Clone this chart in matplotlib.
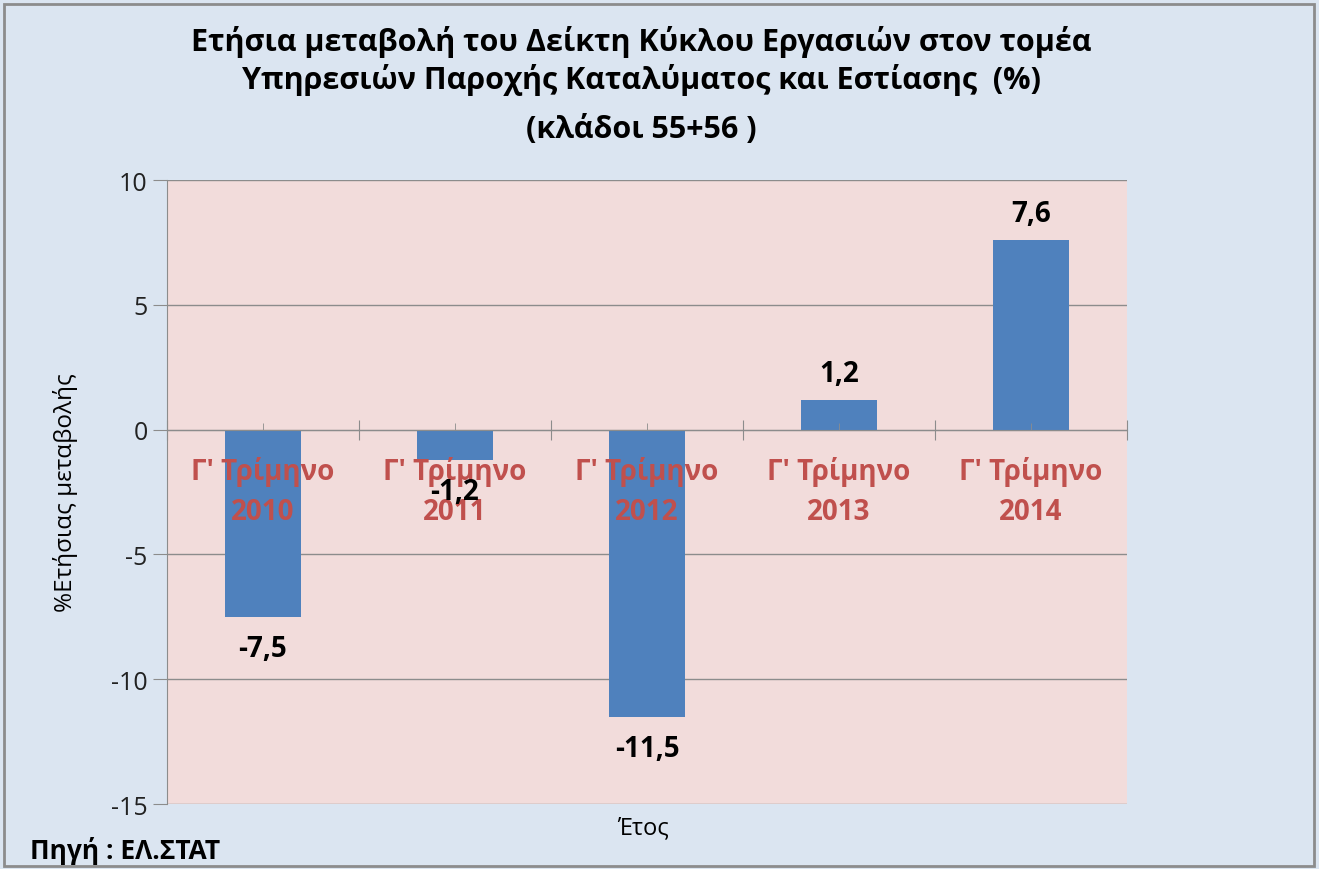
import numpy as np
import matplotlib.pyplot as plt
from matplotlib.patches import Rectangle

plt.rcParams['font.family'] = ['Open Sans', 'DejaVu Sans']

# data
katigories = ["Γ' Τρίμηνο\n2010", "Γ' Τρίμηνο\n2011", "Γ' Τρίμηνο\n2012",
              "Γ' Τρίμηνο\n2013", "Γ' Τρίμηνο\n2014"]
metavoli = [-7.5, -1.2, -11.5, 1.2, 7.6]
etiketes = ["-7,5", "-1,2", "-11,5", "1,2", "7,6"]
y_ticks = [-15, -10, -5, 0, 5, 10]

fig = plt.figure(figsize=(13.19, 8.70), dpi=100)
fig.patch.set_facecolor('#DBE5F1')
fig.patches.append(Rectangle((0.003, 0.004), 0.993, 0.99, transform=fig.transFigure,
                             fill=False, edgecolor='#8C8C8C', linewidth=2))

ax = fig.add_axes([0.1266, 0.0747, 0.7278, 0.7172])
ax.set_facecolor('#F2DCDB')

x = np.arange(len(metavoli))
# gridlines drawn by hand so the axis (and its labels) can sit above the bars
for yv in y_ticks:
    ax.axhline(yv, color='#8C8C8C', linewidth=1, zorder=0.5)
ax.bar(x, metavoli, width=0.4, color='#4F81BD', zorder=2)

ax.set_xlim(-0.5, 4.5)
ax.set_ylim(-15, 10)
ax.set_yticks(y_ticks)
ax.set_yticklabels([str(v) for v in y_ticks], fontsize=18)

for s in ['top', 'right']:
    ax.spines[s].set_visible(False)
ax.spines['left'].set_color('#8C8C8C')
ax.spines['bottom'].set_position(('data', 0))
ax.spines['bottom'].set_color('#8C8C8C')
ax.spines['bottom'].set_zorder(3)
ax.xaxis.set_zorder(3)

# ticks on the category axis
ax.set_xticks(np.arange(-0.5, 5, 1.0))
ax.set_xticklabels([])
ax.tick_params(axis='x', which='major', direction='inout', length=15, color='#8C8C8C')
ax.set_xticks(x, minor=True)
ax.set_xticklabels(katigories, minor=True, fontsize=20, fontweight='bold',
                   color='#C0504D', linespacing=1.5)
ax.tick_params(axis='x', which='minor', direction='in', length=5, color='#8C8C8C', pad=19)
ax.tick_params(axis='y', color='#8C8C8C', length=10, pad=4, labelcolor='#222222')

for xi, v, t in zip(x, metavoli, etiketes):
    off = 19 if v > 0 else -23
    ax.annotate(t, (xi, v), xytext=(0, off), textcoords='offset points',
                ha='center', va='center',
                fontsize=20, fontweight='bold', color='black', zorder=5)

ax.set_ylabel('%Ετήσιας μεταβολής', fontsize=17.5, labelpad=24)
fig.text(0.4875, 0.048, 'Έτος', ha='center', va='center', fontsize=17)
fig.text(0.023, 0.022, 'Πηγή : ΕΛ.ΣΤΑΤ', ha='left', va='center', fontsize=19, fontweight='bold')

fig.text(0.486, 0.952, 'Ετήσια μεταβολή του Δείκτη Κύκλου Εργασιών στον τομέα',
         ha='center', va='center', fontsize=22, fontweight='bold')
fig.text(0.486, 0.908, 'Υπηρεσιών Παροχής Καταλύματος και Εστίασης  (%)',
         ha='center', va='center', fontsize=22, fontweight='bold')
fig.text(0.486, 0.851, '(κλάδοι 55+56 )', ha='center', va='center', fontsize=22, fontweight='bold')

fig.savefig('out.png', dpi=100, facecolor=fig.get_facecolor())
